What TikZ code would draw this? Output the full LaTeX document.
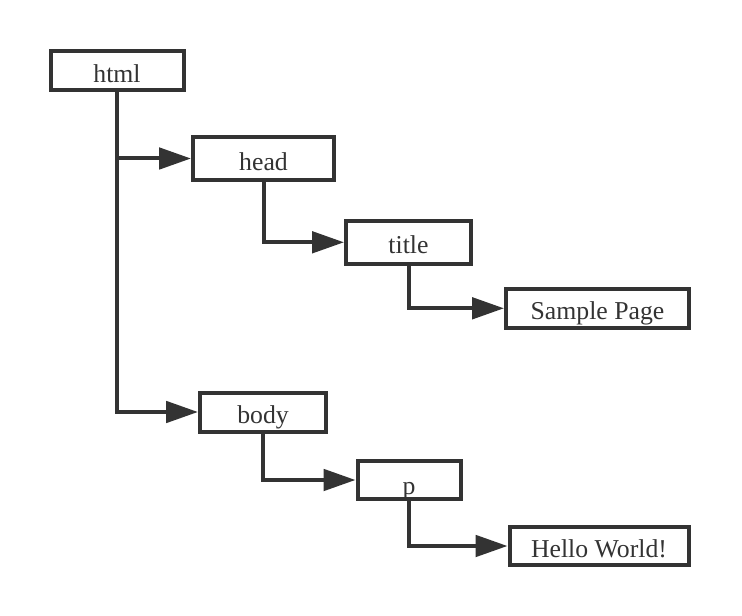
\documentclass[tikz,border=0pt]{standalone}
\usepackage{fontspec}
\setmainfont{Liberation Serif}
\usetikzlibrary{arrows.meta}
\definecolor{ink}{HTML}{333333}
\begin{document}
\begin{tikzpicture}[x=0.75pt,y=-0.75pt,
  box/.style={draw=ink,line width=3pt,fill=white,inner sep=0pt,text=ink,
    font=\fontsize{19.3}{22}\selectfont,text height=17.5pt,text depth=0pt},
  conn/.style={draw=ink,line width=3pt,-{Triangle[length=24pt,width=16pt]}}]
\useasboundingbox[fill=white] (0,0) rectangle (742,616);
\node[box,minimum width=99.75pt,minimum height=29.25pt] (html) at (117,70.7) {html};
\node[box,minimum width=105.75pt,minimum height=32.25pt] (head) at (263.5,158.5) {head};
\node[box,minimum width=93.75pt,minimum height=32.25pt] (title) at (408.5,242.3) {title};
\node[box,minimum width=137.25pt,minimum height=29.25pt] (sample) at (597.5,308.3) {Sample Page};
\node[box,minimum width=94.5pt,minimum height=29.25pt] (body) at (263,412) {body};
\node[box,minimum width=77.25pt,minimum height=28.5pt,text height=21pt] (p) at (409,480) {p};
\node[box,minimum width=134.25pt,minimum height=28.5pt] (hello) at (599,546) {Hello World!};
\draw[conn] (html.south) |- (head.west);
\draw[conn] (html.south) |- (body.west);
\draw[conn] (head.south) |- (title.west);
\draw[conn] (title.south) |- (sample.west);
\draw[conn] (body.south) |- (p.west);
\draw[conn] (p.south) |- (hello.west);
\end{tikzpicture}
\end{document}
